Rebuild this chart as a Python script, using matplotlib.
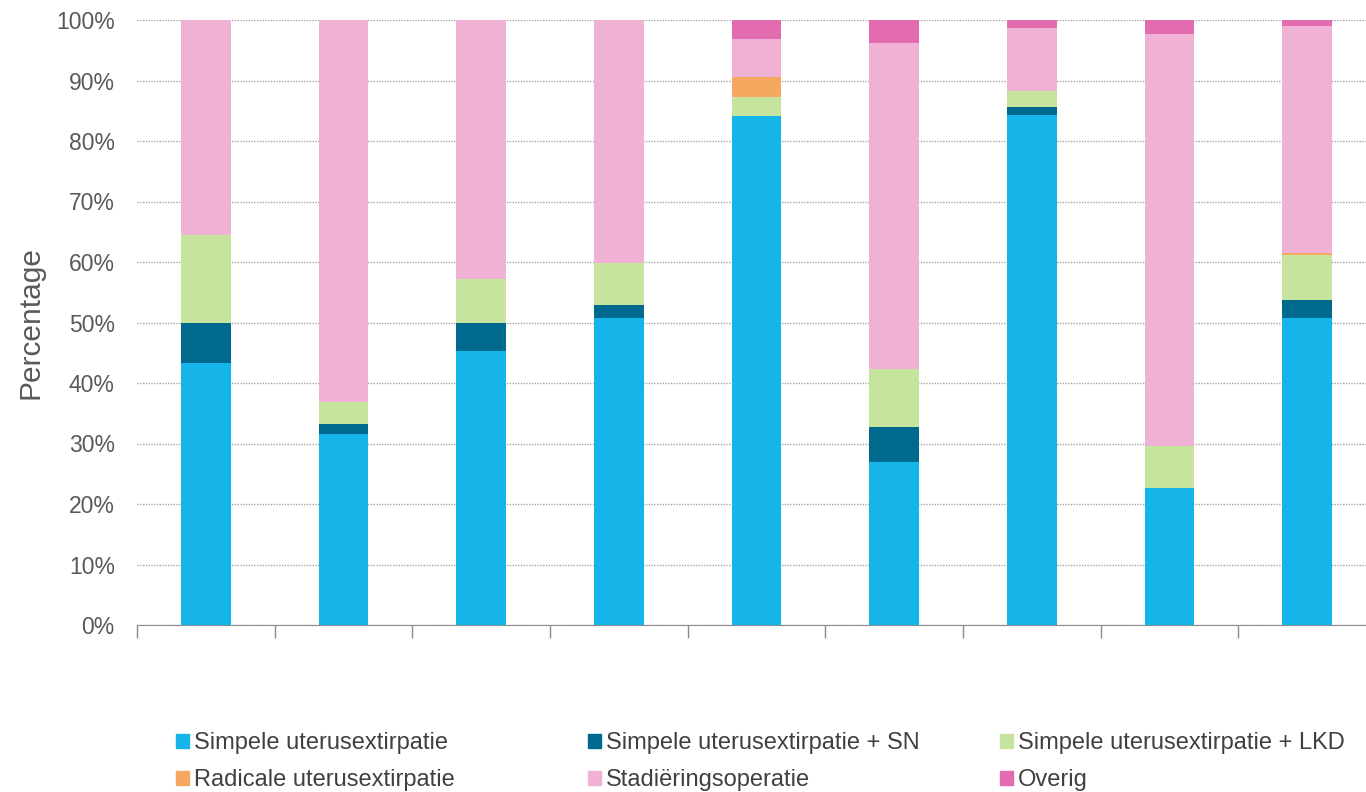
import numpy as np
import matplotlib.pyplot as plt
import matplotlib.patches as mpatches
from matplotlib.ticker import PercentFormatter

plt.rcParams['font.family'] = ['Liberation Sans', 'DejaVu Sans']

# percentages per bar (9 bars, no category labels in the source)
simpele     = [43.3, 31.6, 45.3, 50.7, 84.1, 26.9, 84.3, 22.6, 50.7]
simpele_sn  = [6.6, 1.6, 4.6, 2.2, 0.1, 5.8, 1.3, 0.0, 3.0]
simpele_lkd = [14.6, 3.7, 7.3, 6.9, 3.1, 9.6, 2.7, 7.0, 7.5]
radicale    = [0.0, 0.0, 0.0, 0.0, 3.2, 0.0, 0.0, 0.0, 0.3]
stadiering  = [35.5, 63.1, 42.8, 40.2, 6.3, 53.9, 10.4, 68.1, 37.5]
overig      = [0.0, 0.0, 0.0, 0.0, 3.2, 3.8, 1.3, 2.3, 1.0]

labels = ["Simpele uterusextirpatie", "Simpele uterusextirpatie + SN",
          "Simpele uterusextirpatie + LKD", "Radicale uterusextirpatie",
          "Stadiëringsoperatie", "Overig"]
colors = ["#15B4E9", "#006A8E", "#C6E49E", "#F4A860", "#EFB2D5", "#E36BAF"]
series = [simpele, simpele_sn, simpele_lkd, radicale, stadiering, overig]

fig = plt.figure(figsize=(13.66, 7.92), dpi=100)
ax = fig.add_axes([137/1366, 1-625/792, 1239/1366, 605/792])

x = np.arange(len(simpele))
bottom = np.zeros(len(x))
for vals, col in zip(series, colors):
    v = np.array(vals)
    ax.bar(x, v, bottom=bottom, width=0.36, color=col, linewidth=0, zorder=3)
    bottom += v

ax.set_xlim(-0.5, len(x) - 0.5)
ax.set_ylim(0, 100)
ax.set_yticks(np.arange(0, 101, 10))
ax.yaxis.set_major_formatter(PercentFormatter(decimals=0))
ax.grid(axis='y', linestyle=(0, (1, 1)), color='#A6A6A6', linewidth=1, zorder=0)
ax.tick_params(axis='y', length=0, labelsize=16.5, labelcolor='#595959', pad=16)
ax.set_xticks(np.arange(-0.5, len(x), 1))
ax.set_xticklabels([])
ax.tick_params(axis='x', length=9, color='#8C8C8C', width=1)
for s in ['top', 'right', 'left']:
    ax.spines[s].set_visible(False)
ax.spines['bottom'].set_color('#8C8C8C')
ax.set_ylabel("Percentage", fontsize=21.5, color='#595959')
ax.yaxis.set_label_coords(-0.075, 0.5)

handles = [mpatches.Patch(color=c, label=l) for c, l in zip(colors, labels)]
col_x = [167, 579, 991]
for i, cx in enumerate(col_x):
    fig.legend(handles=[handles[i], handles[i + 3]], loc='upper left',
               bbox_to_anchor=(cx/1366, 1-723/792), frameon=False,
               fontsize=17, handlelength=0.55, handleheight=0.55,
               handletextpad=0.18, labelspacing=0.62, borderaxespad=0,
               labelcolor='#404040')

fig.savefig("out.png", dpi=100)
